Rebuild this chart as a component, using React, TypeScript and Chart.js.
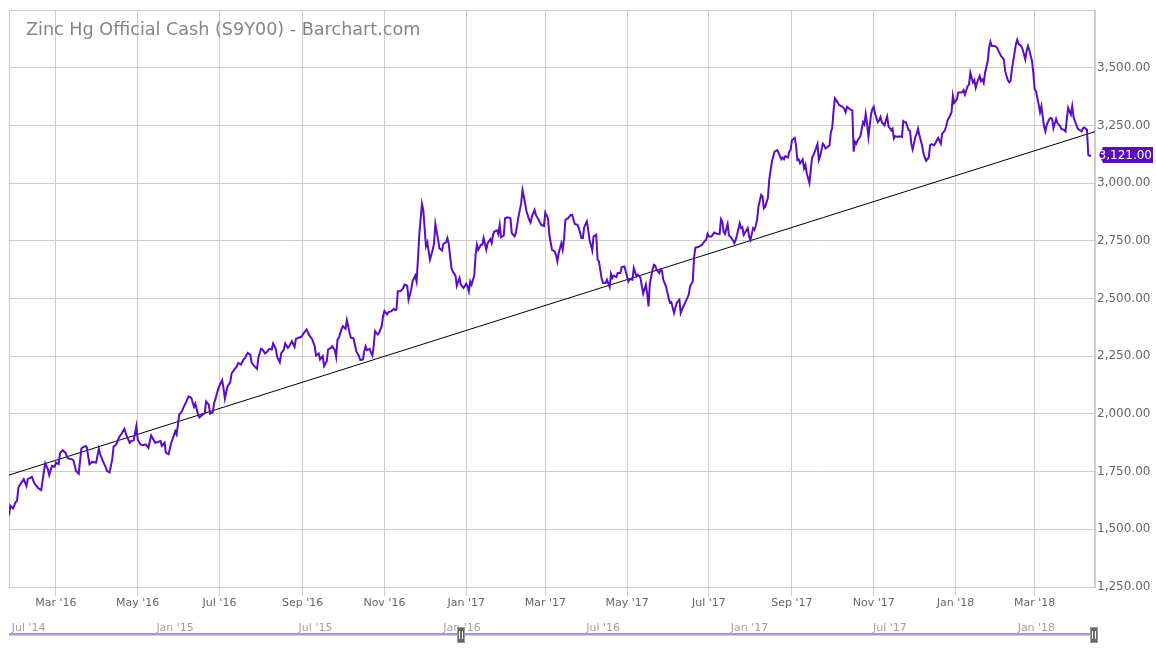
import React, { useEffect, useRef } from 'react';
import { Chart, registerables } from 'chart.js';

Chart.register(...registerables);

const TITLE = 'Zinc Hg Official Cash (S9Y00) - Barchart.com';

// x values: days since 2016-01-01
const days = [
  25, 26, 28, 30, 31, 32, 34, 36, 38, 39, 42, 44, 47, 49, 52, 54, 55, 57, 59, 60, 62, 63, 65, 67, 69, 72, 73, 75, 77, 79,
  82, 83, 85, 87, 90, 92, 93, 95, 97, 98, 100, 102, 103, 105, 107, 109, 111, 113, 115, 116, 118, 120, 121, 123, 125, 127,
  129, 131, 132, 134, 136, 138, 139, 141, 142, 144, 146, 148, 149, 150, 152, 154, 155, 157, 159, 161, 163, 164, 166,
  167, 169, 171, 172, 174, 175, 177, 178, 179, 181, 182, 184, 185, 186, 188, 190, 191, 193, 195, 196, 198, 200, 201, 203,
  205, 206, 208, 210, 211, 213, 214, 216, 218, 219, 221, 222, 224, 225, 227, 228, 230, 231, 233, 234, 236, 238, 239, 241,
  243, 245, 247, 249, 251, 253, 254, 256, 257, 259, 260, 262, 263, 265, 266, 268, 269, 270, 271, 273, 274, 276, 277, 278,
  279, 280, 282, 284, 286, 287, 289, 290, 291, 292, 294, 295, 296, 297, 298, 300, 301, 303, 304, 305, 307, 308,
  310, 312, 313, 314, 315, 317, 319, 320, 322, 323, 325, 326, 328, 329, 330, 331, 333, 334, 336, 337, 338, 339, 341, 342,
  343, 345, 346, 348, 349, 351, 352, 353, 355, 356, 358, 359, 361, 362, 364, 366, 367, 368, 369, 370, 372, 373, 374, 375,
  377, 378, 379, 381, 382, 384, 385, 386, 387, 389, 390, 391, 392, 394, 395, 397, 399, 400, 402, 403, 405, 407, 408, 409,
  411, 413, 414, 415, 417, 418, 420, 422, 424, 425, 427, 428, 430, 432, 433, 434, 435, 437, 438, 439, 440, 442, 444, 445,
  447, 449,
  450, 452, 453, 454, 456, 457, 458, 460, 461, 463, 464, 465, 467, 468, 470, 471, 473, 474, 475, 476, 478, 479, 481, 482,
  484, 485, 487, 488, 490, 491, 493, 494, 496, 497, 498, 500, 501, 502, 503, 505, 506, 507, 508, 510, 511, 512, 513, 515,
  517, 518, 519, 521, 522, 523, 525, 526, 528, 530, 532, 533, 535, 536, 537, 539, 540, 542, 544, 545, 546, 547, 549, 551,
  553, 555, 556, 557, 558, 559, 561, 562, 563, 565, 566, 567, 568, 570, 571, 572, 573, 574, 576, 577, 578, 580, 581, 582,
  583, 584, 586, 587, 588, 589, 591, 592,
  594, 596, 598, 599, 601, 602, 603, 604, 606, 607, 608, 609, 611, 612, 613, 614, 615, 617, 618, 619, 620, 622, 623, 624,
  625, 626, 628, 629, 630, 632, 633, 634, 635, 637, 638, 639, 640, 641, 643, 644, 645, 647, 648, 649, 650, 652, 653, 654,
  655, 656, 657, 658, 660, 662, 663, 664, 665, 666, 668, 669, 670, 671, 673, 674, 675, 676, 678, 679, 680, 681, 683, 684,
  685, 686, 688, 689, 691, 692, 693, 694, 696, 697, 698, 699, 701, 702, 703, 704, 706, 707, 708, 709, 711, 712, 713, 715,
  716, 717, 718, 720, 721, 722, 723, 724, 725, 727, 728, 729, 730, 732, 733,
  736, 737, 738, 740, 741, 742, 744, 745, 746, 747, 749, 750, 751, 752, 753, 755, 756, 757, 758, 760, 762, 763, 765, 766,
  767, 768, 770, 771, 772, 773, 775, 776, 777, 778, 780, 781, 783, 784, 785, 786, 788, 789, 790, 791, 793, 794, 795, 796,
  797, 798, 799, 801, 802, 803, 804, 806, 807, 809, 810, 812, 813, 814, 815, 817, 818, 819, 821, 822, 823, 825, 826, 827,
  829, 830, 831, 832,
];

const prices = [
  1559, 1602, 1590, 1619, 1623, 1681, 1700, 1717, 1688, 1717, 1727, 1698, 1677, 1670, 1786, 1760, 1735, 1774, 1771, 1789,
  1782, 1829, 1843, 1832, 1807, 1803, 1799, 1753, 1741, 1851, 1861, 1856, 1782, 1792, 1789, 1849, 1825, 1796, 1771, 1753,
  1746, 1803, 1858, 1868, 1897, 1915, 1935, 1901, 1875, 1882, 1885, 1947, 1889, 1868, 1864, 1868, 1853, 1907, 1897, 1875,
  1878, 1882, 1861, 1875, 1832, 1825, 1875, 1907, 1925, 1911, 1997, 2011, 2026, 2050, 2076, 2069, 2030, 2045, 1997,
  1985, 1994, 2004, 2054, 2040, 2001, 2007, 2047, 2065, 2108, 2122, 2146, 2112, 2066, 2120, 2137, 2175, 2192, 2207, 2221,
  2214, 2236, 2243, 2264, 2257, 2221, 2207, 2195, 2243, 2282, 2279, 2262, 2272, 2282, 2279, 2305, 2282, 2247, 2224, 2262,
  2279, 2305, 2286, 2293, 2315, 2290, 2325, 2330, 2334, 2351, 2366, 2340, 2325, 2293, 2253, 2262, 2236, 2250, 2207, 2228,
  2279, 2286, 2293, 2276, 2247, 2322, 2330, 2366, 2380, 2369, 2406, 2380, 2351, 2330, 2327, 2272, 2250, 2233, 2236, 2272,
  2293, 2276, 2282, 2264, 2253, 2293, 2359, 2344, 2351, 2380, 2424, 2446, 2431, 2441,
  2444, 2455, 2449, 2452, 2531, 2531, 2545, 2560, 2555, 2495, 2538, 2574, 2599, 2574, 2668, 2776, 2910, 2884, 2726, 2743,
  2704, 2668, 2711, 2737, 2823, 2757, 2718, 2708, 2737, 2743, 2762, 2737, 2632, 2617, 2599, 2555, 2589, 2560, 2545, 2564,
  2553, 2531, 2574, 2560, 2599, 2689, 2733, 2711, 2733, 2733, 2762, 2711, 2740, 2757, 2740, 2776, 2790, 2795, 2779, 2819,
  2766, 2772, 2848, 2852, 2848, 2783, 2769, 2783, 2855, 2913, 2970, 2942, 2877, 2841, 2829, 2855, 2884, 2862, 2841, 2819,
  2815, 2872, 2848, 2776, 2711, 2704, 2689, 2661, 2697, 2740, 2711, 2757, 2841, 2848, 2862, 2862, 2823, 2819,
  2805, 2762, 2762, 2809, 2834, 2798, 2754, 2708, 2769, 2776, 2668, 2661, 2589, 2567, 2567, 2581, 2550, 2607, 2589, 2599,
  2593, 2610, 2610, 2636, 2639, 2617, 2574, 2584, 2581, 2632, 2596, 2603, 2589, 2553, 2521, 2560, 2521, 2466, 2567, 2625,
  2646, 2642, 2625, 2610, 2625, 2622, 2581, 2553, 2502, 2481, 2484, 2437, 2459, 2481, 2495, 2437, 2466, 2491, 2517, 2553,
  2574, 2682, 2721, 2723, 2726, 2733, 2750, 2754, 2780, 2769, 2769, 2786, 2780, 2779, 2844, 2834, 2790, 2780, 2823, 2772,
  2769, 2752, 2740, 2754, 2776, 2826, 2805, 2809, 2776, 2786, 2805, 2769, 2754, 2805, 2798, 2815, 2844, 2898, 2949, 2942,
  2891, 2898, 2935, 3014,
  3093, 3136, 3143, 3131, 3103, 3111, 3103, 3117, 3111, 3136, 3146, 3186, 3196, 3164, 3100, 3103, 3086, 3103, 3064, 3079,
  3043, 3000, 3057, 3111, 3121, 3136, 3169, 3100, 3117, 3171, 3164, 3150, 3153, 3164, 3221, 3240, 3314, 3367, 3350, 3339,
  3336, 3329, 3321, 3307, 3331, 3321, 3317, 3314, 3136, 3179, 3171, 3186, 3203, 3264, 3254, 3300, 3257, 3200, 3300, 3321,
  3331, 3300, 3264, 3271, 3286, 3264, 3250, 3271, 3289, 3246, 3229, 3236, 3193, 3203, 3200, 3203, 3200, 3269, 3264, 3264,
  3229, 3226, 3171, 3146, 3200, 3214, 3236, 3207, 3164, 3131, 3111, 3097, 3111, 3164, 3169, 3164, 3174, 3186, 3196, 3171,
  3214, 3221, 3229, 3246, 3271, 3293, 3307, 3379, 3347, 3364, 3393,
  3394, 3403, 3384, 3420, 3427, 3478, 3436, 3446, 3413, 3434, 3464, 3442, 3449, 3434, 3478, 3529, 3587, 3612, 3594, 3594,
  3587, 3573, 3550, 3544, 3536, 3485, 3446, 3436, 3442, 3493, 3565, 3602, 3621, 3602, 3594, 3580, 3536, 3573, 3594, 3576,
  3529, 3478, 3406, 3398, 3340, 3307, 3333, 3289, 3246, 3224, 3253, 3278, 3282, 3278, 3238, 3278, 3260, 3246, 3234, 3231,
  3224, 3278, 3326, 3297, 3333, 3286, 3253, 3238, 3231, 3224, 3238, 3241, 3231, 3122, 3118, 3121,
];

const trendDays = [25, 835];
const trendValues = [1735, 3223];

const monthTickDays = [60, 121, 182, 244, 305, 366, 425, 486, 547, 609, 670, 731, 790];
const monthTickLabels = [
  "Mar '16", "May '16", "Jul '16", "Sep '16", "Nov '16", "Jan '17", "Mar '17",
  "May '17", "Jul '17", "Sep '17", "Nov '17", "Jan '18", "Mar '18",
];

const navTickDays = [-549, -365, -184, 0, 182, 366, 547, 731];
const navTickLabels = ["Jul '14", "Jan '15", "Jul '15", "Jan '16", "Jul '16", "Jan '17", "Jul '17", "Jan '18"];

const viewRange = [25, 835];
const navRange = [-550, 832];
const yRange = [1250, 3750];
const yStep = 250;
const lastPriceLabel = '3,121.00';

const PURPLE = '#5b0dbf';
const GRID = '#cccccc';

const fmt = (v: number) =>
  v.toLocaleString('en-US', { minimumFractionDigits: 2, maximumFractionDigits: 2 });

export default function App() {
  const ref = useRef<HTMLCanvasElement | null>(null);

  useEffect(() => {
    const canvas = ref.current;
    if (!canvas) return;
    Chart.defaults.font.family = '"DejaVu Sans", sans-serif';

    const decor = {
      id: 'decor',
      beforeDatasetsDraw(chart: any) {
        const { ctx, chartArea: a } = chart;
        ctx.save();
        ctx.strokeStyle = GRID;
        ctx.lineWidth = 1;
        ctx.strokeRect(a.left + 0.5, a.top + 0.5, a.right - a.left - 1, a.bottom - a.top);
        ctx.font = '17.6px "DejaVu Sans"';
        ctx.fillStyle = '#858585';
        ctx.textBaseline = 'alphabetic';
        ctx.textAlign = 'left';
        ctx.fillText(TITLE, a.left + 17, a.top + 25);
        ctx.restore();
      },
      afterDraw(chart: any) {
        const { ctx, chartArea: a } = chart;
        const x2 = chart.scales.x2;
        const y = chart.scales.y;
        ctx.save();
        // navigator line
        const ly = 634;
        ctx.fillStyle = '#cfcfcf';
        ctx.fillRect(x2.left, ly + 1, x2.right - x2.left, 1);
        ctx.fillStyle = '#b48ee8';
        ctx.fillRect(x2.left, ly - 1, x2.right - x2.left, 2);
        // handles
        const handles = [x2.getPixelForValue(viewRange[0]), x2.getPixelForValue(navRange[1]) - 1];
        for (const hx of handles) {
          const left = Math.round(hx - 4);
          ctx.fillStyle = '#666666';
          ctx.fillRect(left, 627, 8, 16);
          ctx.strokeStyle = '#999999';
          ctx.strokeRect(left + 0.5, 627.5, 7, 15);
          ctx.fillStyle = '#ffffff';
          ctx.fillRect(left + 2, 631, 1, 8);
          ctx.fillRect(left + 5, 631, 1, 8);
        }
        // last price label
        const py = Math.round(y.getPixelForValue(prices[prices.length - 1]));
        const r = a.right;
        ctx.beginPath();
        ctx.moveTo(r + 4, py);
        ctx.lineTo(r + 8, py - 8);
        ctx.lineTo(r + 58, py - 8);
        ctx.lineTo(r + 58, py + 8);
        ctx.lineTo(r + 8, py + 8);
        ctx.closePath();
        ctx.fillStyle = '#5a0fbe';
        ctx.fill();
        ctx.clip();
        ctx.fillStyle = '#ffffff';
        ctx.font = '12px "DejaVu Sans"';
        ctx.textAlign = 'right';
        ctx.textBaseline = 'middle';
        ctx.fillText(lastPriceLabel, r + 57, py + 1);
        ctx.restore();
      },
    };

    const chart = new Chart(canvas, {
      type: 'line',
      data: {
        datasets: [
          {
            data: days.map((d, i) => ({ x: d, y: prices[i] })),
            borderColor: PURPLE,
            borderWidth: 2,
            pointRadius: 0,
            tension: 0,
            xAxisID: 'x',
            yAxisID: 'y',
          },
          {
            data: trendDays.map((d, i) => ({ x: d, y: trendValues[i] })),
            borderColor: '#000000',
            borderWidth: 1,
            pointRadius: 0,
            xAxisID: 'x',
            yAxisID: 'y',
          },
        ],
      },
      options: {
        animation: false,
        responsive: false,
        devicePixelRatio: 1,
        layout: { padding: { left: 9, top: 10, right: 0, bottom: 0 } },
        plugins: { legend: { display: false }, tooltip: { enabled: false }, title: { display: false } },
        scales: {
          x: {
            type: 'linear',
            position: 'bottom',
            weight: 0,
            min: viewRange[0],
            max: viewRange[1],
            afterBuildTicks: (s: any) => {
              s.ticks = monthTickDays.map((v) => ({ value: v }));
            },
            afterFit: (s: any) => {
              s.height = 28;
            },
            ticks: {
              autoSkip: false,
              maxRotation: 0,
              padding: 1,
              color: '#666666',
              font: { size: 11 },
              callback: (_v: any, i: number) => monthTickLabels[i],
            },
            grid: { color: GRID, tickLength: 9, drawTicks: true },
            border: { display: true, color: GRID },
          },
          x2: {
            type: 'linear',
            position: 'bottom',
            weight: 1,
            min: navRange[0],
            max: navRange[1],
            afterBuildTicks: (s: any) => {
              s.ticks = navTickDays.map((v) => ({ value: v }));
            },
            afterFit: (s: any) => {
              s.height = 35;
            },
            ticks: {
              autoSkip: false,
              maxRotation: 0,
              align: 'start',
              labelOffset: 2,
              padding: 7,
              color: '#a0a0a0',
              font: { size: 11 },
              callback: (_v: any, i: number) => navTickLabels[i],
            },
            grid: { display: false, drawTicks: false },
            border: { display: false },
          },
          y: {
            type: 'linear',
            position: 'right',
            min: yRange[0],
            max: yRange[1],
            afterFit: (s: any) => {
              s.width = 61;
            },
            ticks: {
              stepSize: yStep,
              padding: 2,
              color: '#666666',
              font: { size: 12 },
              callback: (v: any) => (Number(v) >= yRange[1] ? '' : fmt(Number(v))),
            },
            grid: { color: GRID, drawTicks: false },
            border: { display: true, color: GRID },
          },
        },
      },
      plugins: [decor],
    } as any);

    return () => chart.destroy();
  }, []);

  return (
    <div style={{ position: 'fixed', left: 0, top: 0, width: 1156, height: 650, background: '#fff' }}>
      <canvas ref={ref} width={1156} height={650} style={{ width: 1156, height: 650, display: 'block' }} />
    </div>
  );
}
